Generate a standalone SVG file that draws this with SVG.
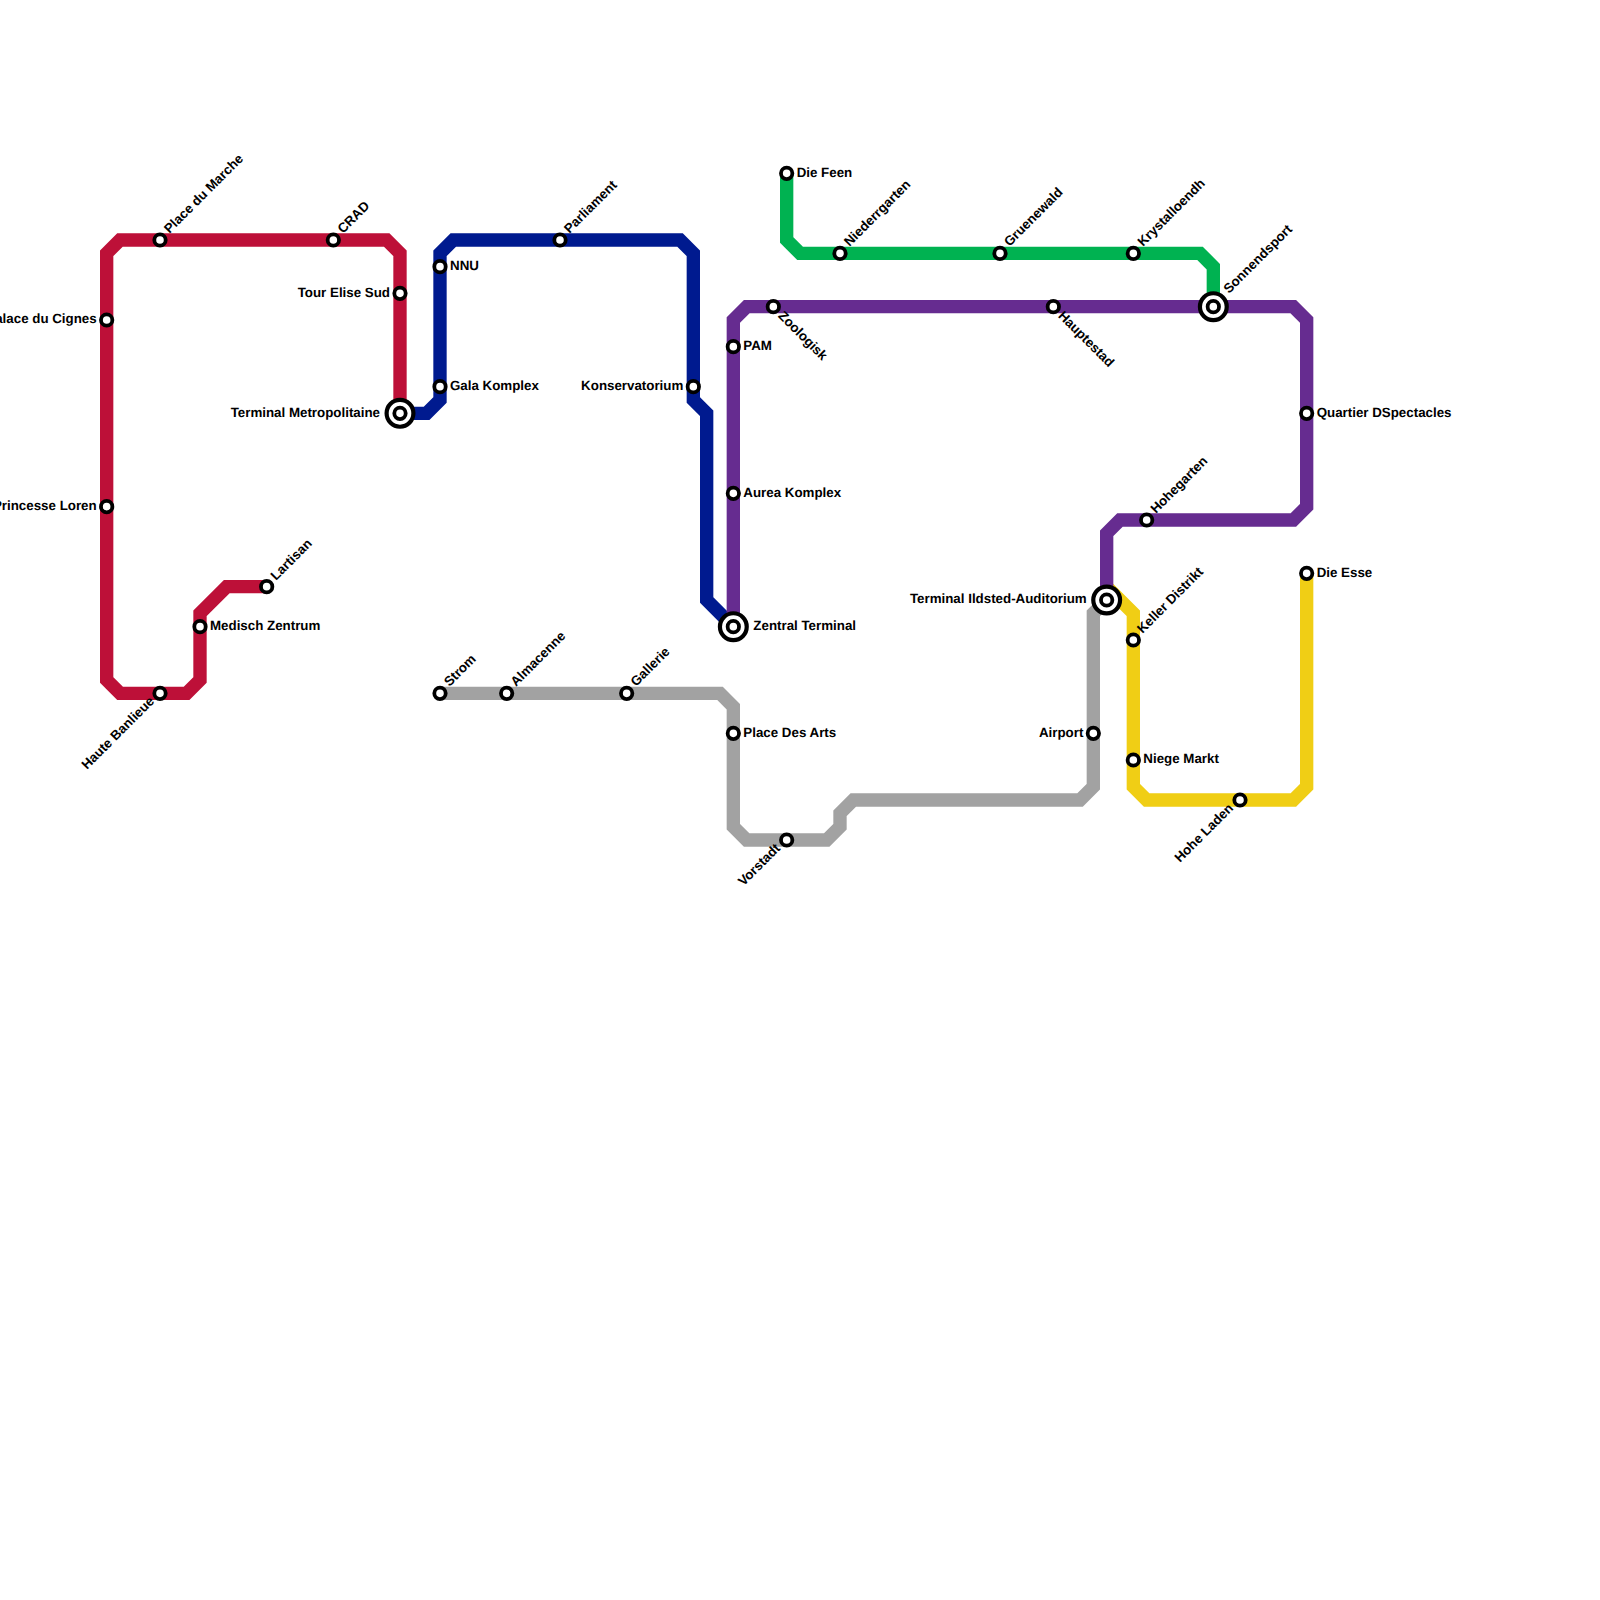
<svg xmlns="http://www.w3.org/2000/svg" width="1600" height="1600" viewBox="0 0 1600 1600">
<style>
text{font-family:"Liberation Sans",Arial,sans-serif;font-weight:bold;font-size:13.33px;fill:#000;text-rendering:geometricPrecision}
.e{text-anchor:end}
.l{fill:none;stroke-width:13.33;stroke-linejoin:miter;stroke-linecap:butt}
.s{fill:#fff;stroke:#000;stroke-width:3.8}
.o{fill:#fff;stroke:#000;stroke-width:4.2}
</style>
<defs>
<g id="st"><circle class="s" r="5.7"/></g>
<g id="ic"><circle class="o" r="13.4"/><circle class="s" r="5.7"/></g>
</defs>
<rect width="1600" height="1600" fill="#fff"/>
<g id="connectors">
<path class="l" stroke="#BD1038" d="M400 413.33V253.33L386.67 240H120L106.67 253.33V680L120 693.33H186.67L200 680V613.33L226.67 586.67H266.67"/>
<path class="l" stroke="#001A8F" d="M400 413.33H426.67L440 400V253.33L453.33 240H680L693.33 253.33V400L706.67 413.33V600L733.33 626.67"/>
<path class="l" stroke="#A2A2A2" d="M440 693.33H720L733.33 706.67V826.67L746.67 840H826.67L840 826.67V813.33L853.33 800H1080L1093.33 786.67V613.33L1106.67 600"/>
<path class="l" stroke="#F0CE15" d="M1106.67 586.67L1133.33 613.33V786.67L1146.67 800H1293.33L1306.67 786.67V573.33"/>
<path class="l" stroke="#00B251" d="M786.67 173.33V240L800 253.33H1200L1213.33 266.67V306.67"/>
<path class="l" stroke="#662C90" d="M733.33 626.67V320L746.67 306.67H1293.33L1306.67 320V506.67L1293.33 520H1120L1106.67 533.33V600"/>
</g>
<g id="terminal-metropolitaine"><use href="#ic" x="400" y="413.33"/><text class="e" x="380" y="416.67">Terminal Metropolitaine</text></g>
<g id="zentral-terminal"><use href="#ic" x="733.33" y="626.67"/><text x="753.33" y="630">Zentral Terminal</text></g>
<g id="terminal-ildsted"><use href="#ic" x="1106.67" y="600"/><text class="e" x="1086.67" y="603.33">Terminal Ildsted-Auditorium</text></g>
<g id="sonnendsport"><use href="#ic" x="1213.33" y="306.67"/><text transform="translate(1229 294) rotate(-45)">Sonnendsport</text></g>
<g id="palace-du-cignes"><use href="#st" x="106.67" y="320"/><text class="e" x="96.67" y="323.33">Palace du Cignes</text></g>
<g id="princesse-loren"><use href="#st" x="106.67" y="506.67"/><text class="e" x="96.67" y="510">Princesse Loren</text></g>
<g id="place-du-marche"><use href="#st" x="160" y="240"/><text transform="translate(169.5 234) rotate(-45)">Place du Marche</text></g>
<g id="crad"><use href="#st" x="333.33" y="240"/><text transform="translate(343 234) rotate(-45)">CRAD</text></g>
<g id="tour-elise-sud"><use href="#st" x="400" y="293.33"/><text class="e" x="390" y="296.67">Tour Elise Sud</text></g>
<g id="medisch-zentrum"><use href="#st" x="200" y="626.67"/><text x="210" y="630">Medisch Zentrum</text></g>
<g id="lartisan"><use href="#st" x="266.67" y="586.67"/><text transform="translate(276 581) rotate(-45)">Lartisan</text></g>
<g id="haute-banlieue"><use href="#st" x="160" y="693.33"/><text class="e" transform="translate(155 702) rotate(-45)">Haute Banlieue</text></g>
<g id="nnu"><use href="#st" x="440" y="266.67"/><text x="450" y="270">NNU</text></g>
<g id="gala-komplex"><use href="#st" x="440" y="386.67"/><text x="450" y="390">Gala Komplex</text></g>
<g id="parliament"><use href="#st" x="560" y="240"/><text transform="translate(569.5 234) rotate(-45)">Parliament</text></g>
<g id="konservatorium"><use href="#st" x="693.33" y="386.67"/><text class="e" x="683.33" y="390">Konservatorium</text></g>
<g id="pam"><use href="#st" x="733.33" y="346.67"/><text x="743.33" y="350">PAM</text></g>
<g id="aurea-komplex"><use href="#st" x="733.33" y="493.33"/><text x="743.33" y="496.67">Aurea Komplex</text></g>
<g id="zoologisk"><use href="#st" x="773.33" y="306.67"/><text transform="translate(777.5 316.5) rotate(45)">Zoologisk</text></g>
<g id="hauptestad"><use href="#st" x="1053.33" y="306.67"/><text transform="translate(1057.5 316.5) rotate(45)">Hauptestad</text></g>
<g id="quartier-dspectacles"><use href="#st" x="1306.67" y="413.33"/><text x="1316.67" y="416.67">Quartier DSpectacles</text></g>
<g id="hohegarten"><use href="#st" x="1146.67" y="520"/><text transform="translate(1156 514) rotate(-45)">Hohegarten</text></g>
<g id="die-feen"><use href="#st" x="786.67" y="173.33"/><text x="796.67" y="176.67">Die Feen</text></g>
<g id="niederrgarten"><use href="#st" x="840" y="253.33"/><text transform="translate(849.5 247) rotate(-45)">Niederrgarten</text></g>
<g id="gruenewald"><use href="#st" x="1000" y="253.33"/><text transform="translate(1009.5 247) rotate(-45)">Gruenewald</text></g>
<g id="krystalloendh"><use href="#st" x="1133.33" y="253.33"/><text transform="translate(1143 247) rotate(-45)">Krystalloendh</text></g>
<g id="strom"><use href="#st" x="440" y="693.33"/><text transform="translate(449.5 687) rotate(-45)">Strom</text></g>
<g id="almacenne"><use href="#st" x="506.67" y="693.33"/><text transform="translate(516 687) rotate(-45)">Almacenne</text></g>
<g id="gallerie"><use href="#st" x="626.67" y="693.33"/><text transform="translate(636 687) rotate(-45)">Gallerie</text></g>
<g id="place-des-arts"><use href="#st" x="733.33" y="733.33"/><text x="743.33" y="736.67">Place Des Arts</text></g>
<g id="vorstadt"><use href="#st" x="786.67" y="840"/><text class="e" transform="translate(781 849) rotate(-45)">Vorstadt</text></g>
<g id="airport"><use href="#st" x="1093.33" y="733.33"/><text class="e" x="1083.33" y="736.67">Airport</text></g>
<g id="keller-distrikt"><use href="#st" x="1133.33" y="640"/><text transform="translate(1142.5 634) rotate(-45)">Keller Distrikt</text></g>
<g id="niege-markt"><use href="#st" x="1133.33" y="760"/><text x="1143.33" y="763.33">Niege Markt</text></g>
<g id="hohe-laden"><use href="#st" x="1240" y="800"/><text class="e" transform="translate(1234 809) rotate(-45)">Hohe Laden</text></g>
<g id="die-esse"><use href="#st" x="1306.67" y="573.33"/><text x="1316.67" y="576.67">Die Esse</text></g>
</svg>
